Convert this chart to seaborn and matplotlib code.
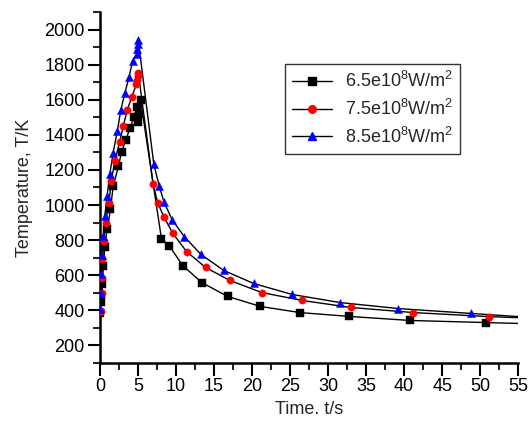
import matplotlib
matplotlib.use("Agg")
import matplotlib.pyplot as plt
from matplotlib.lines import Line2D
from matplotlib.ticker import MultipleLocator
import seaborn as sns
import pandas as pd

# data (time in s, temperature in K)
t_65 = [0.05, 0.2, 0.35, 0.45, 0.65, 0.95, 1.4, 1.75, 2.45, 2.85, 3.4, 4.0,
        4.5, 4.95, 5.05, 5.1, 5.35,
        8.1, 9.1, 10.9, 13.4, 16.8, 21.1, 26.3, 32.8, 40.8, 50.8]
T_65 = [385, 445, 547, 652, 758, 861, 975, 1107, 1221, 1301, 1370, 1440,
        1504, 1560, 1476, 1516, 1600,
        808, 769, 655, 558, 479, 422, 387, 365, 342, 330]

t_75 = [0.13, 0.22, 0.3, 0.35, 0.53, 0.75, 1.2, 1.5, 1.97, 2.6, 3.1, 3.6,
        4.2, 4.8, 4.95, 5.0, 5.05,
        7.0, 7.6, 8.4, 9.6, 11.4, 13.9, 17.1, 21.3, 26.6, 33.0, 41.2, 51.1]
T_75 = [396, 500, 586, 690, 794, 899, 1013, 1136, 1250, 1358, 1453, 1540,
        1617, 1687, 1715, 1735, 1755,
        1120, 1014, 934, 838, 735, 644, 570, 501, 456, 416, 387, 364]

t_85 = [0.05, 0.12, 0.2, 0.3, 0.45, 0.65, 0.95, 1.3, 1.75, 2.3, 2.75, 3.3,
        3.85, 4.3, 4.85, 4.95, 5.0, 5.05,
        7.1, 7.8, 8.4, 9.5, 11.1, 13.3, 16.3, 20.2, 25.3, 31.6, 39.2, 48.8]
T_85 = [405, 500, 604, 713, 823, 936, 1050, 1174, 1298, 1421, 1540, 1640,
        1730, 1820, 1860, 1890, 1915, 1940,
        1231, 1111, 1020, 917, 820, 718, 627, 553, 490, 444, 410, 382]

# the fitted lines run on past the last marker to t = 55
t_end = 55
T_end = [325, 358, 364]

labels = [r"6.5e10$^{8}$W/m$^{2}$", r"7.5e10$^{8}$W/m$^{2}$", r"8.5e10$^{8}$W/m$^{2}$"]
colors = ["black", "red", "blue"]
markers = ["s", "o", "^"]

sns.set_style("ticks")
plt.rcParams["font.family"] = ["Liberation Sans", "DejaVu Sans"]
plt.rcParams["mathtext.fontset"] = "custom"
plt.rcParams["mathtext.rm"] = "Liberation Sans"
plt.rcParams["mathtext.it"] = "Liberation Sans:italic"

fs = 13

fig = plt.figure(figsize=(5.31, 4.30), dpi=100)
ax = fig.add_axes([0.188, 0.156, 0.788, 0.816])

series = [(t_65, T_65), (t_75, T_75), (t_85, T_85)]
for (t, T), end, c, m in zip(series, T_end, colors, markers):
    line = pd.DataFrame({"t": t + [t_end], "T": T + [end]})
    sns.lineplot(data=line, x="t", y="T", ax=ax, color="black", lw=1.0,
                 sort=False, estimator=None)
    pts = pd.DataFrame({"t": t, "T": T})
    sns.scatterplot(data=pts, x="t", y="T", ax=ax, color=c, marker=m,
                    s=28 if m != "^" else 34, edgecolor=c, linewidth=0.3, zorder=3)

ax.set_xlim(0, 55)
ax.set_ylim(100, 2100)
ax.xaxis.set_major_locator(MultipleLocator(5))
ax.xaxis.set_minor_locator(MultipleLocator(2.5))
ax.yaxis.set_minor_locator(MultipleLocator(100))
ax.set_yticks(range(200, 2001, 200))
ax.tick_params(which="major", direction="out", length=9, width=1.5, pad=2,
               labelsize=fs, colors="black")
ax.tick_params(which="minor", direction="out", length=5, width=1.5)
for s in ["top", "right"]:
    ax.spines[s].set_visible(False)
for s in ["left", "bottom"]:
    ax.spines[s].set_linewidth(1.8)
    ax.spines[s].set_color("black")

ax.set_xlabel("Time. t/s", fontsize=fs, labelpad=4)
ax.set_ylabel("Temperature, T/K", fontsize=fs, labelpad=8)

handles = [Line2D([], [], color="black", lw=1.0, marker=m, markersize=5.5,
                  markerfacecolor=c, markeredgecolor=c)
           for c, m in zip(colors, markers)]
leg = ax.legend(handles, labels, loc="upper left", bbox_to_anchor=(0.443, 0.852),
                fontsize=fs, handlelength=2.2, handletextpad=0.7, labelspacing=0.42,
                frameon=True, fancybox=False, edgecolor="black", borderpad=0.4,
                borderaxespad=0)
leg.get_frame().set_linewidth(1.0)

fig.savefig("out.png", dpi=100)
